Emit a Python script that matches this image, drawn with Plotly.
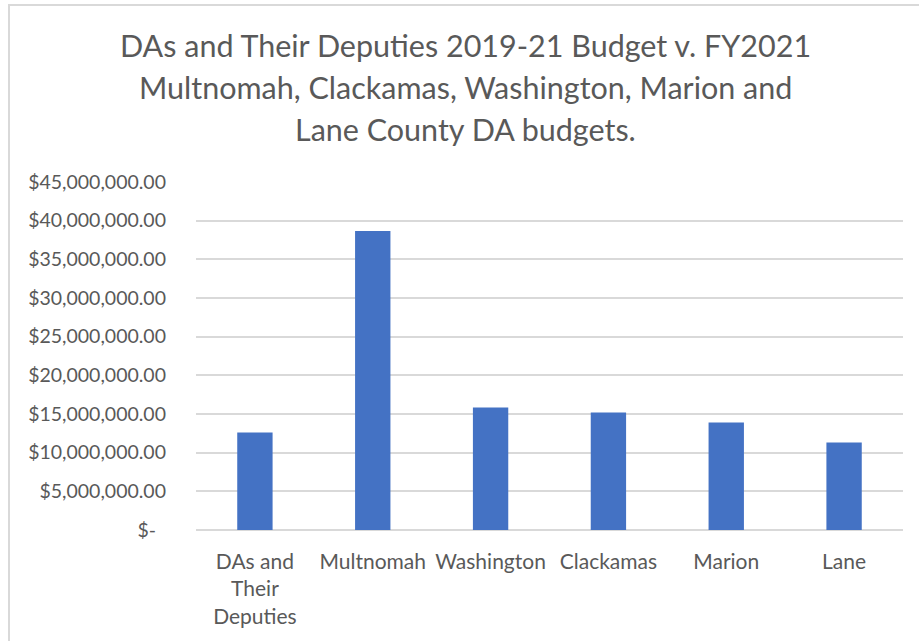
import plotly.graph_objects as go

categories = ["DAs and<br>Their<br>Deputies", "Multnomah", "Washington", "Clackamas", "Marion", "Lane"]
budgets = [12620000, 38670000, 15850000, 15200000, 13900000, 11330000]
tick_values = [0, 5e6, 10e6, 15e6, 20e6, 25e6, 30e6, 35e6, 40e6, 45e6]
tick_labels = ["$-\u00a0\u00a0", "$5,000,000.00", "$10,000,000.00", "$15,000,000.00", "$20,000,000.00",
               "$25,000,000.00", "$30,000,000.00", "$35,000,000.00", "$40,000,000.00", "$45,000,000.00"]
title_lines = ["DAs and Their Deputies 2019-21 Budget v. FY2021",
               "Multnomah, Clackamas, Washington, Marion and",
               "Lane County DA budgets."]

FONT = "Lato"
GREY = "#595959"

fig = go.Figure(go.Bar(x=categories, y=budgets, marker=dict(color="#4472C4", line=dict(width=0))))

L, R, T, B = 196, 16, 182, 111
W, H = 919, 641
pw, ph = W - L - R, H - T - B

def px_to_paper(x, y):
    return (x - L) / pw, (H - B - y) / ph

annotations = []
for line, yy in zip(title_lines, [45, 87, 129]):
    px, py = px_to_paper(465, yy)
    annotations.append(dict(text=line, x=px, xref="paper", y=py, yref="paper",
                            showarrow=False, font=dict(family=FONT, size=30.5, color=GREY),
                            xanchor="center", yanchor="middle"))

x0, y0 = px_to_paper(9, 5)
x1, y1 = px_to_paper(930, 660)

fig.update_layout(
    width=W, height=H,
    margin=dict(l=L, r=R, t=T, b=B, pad=0),
    paper_bgcolor="white", plot_bgcolor="white",
    showlegend=False,
    bargap=0.7,
    annotations=annotations,
    shapes=[dict(type="rect", xref="paper", yref="paper", x0=x0, y0=y0, x1=x1, y1=y1,
                 line=dict(color="#d9d9d9", width=2), fillcolor="rgba(0,0,0,0)", layer="below")],
    xaxis=dict(showgrid=False, showline=False, zeroline=False, ticks="",
               tickfont=dict(family=FONT, size=21, color=GREY), ticklabelstandoff=17),
    yaxis=dict(range=[0, 45e6], tickvals=tick_values, ticktext=tick_labels,
               showgrid=True, gridcolor="#d9d9d9", gridwidth=1.5,
               zeroline=True, zerolinecolor="#d9d9d9", zerolinewidth=1.5,
               showline=False, ticks="",
               tickfont=dict(family=FONT, size=19.5, color=GREY), ticklabelstandoff=29),
)

fig.write_html("out.html", config={"displayModeBar": False},
               post_script="document.body.style.margin='0';")
